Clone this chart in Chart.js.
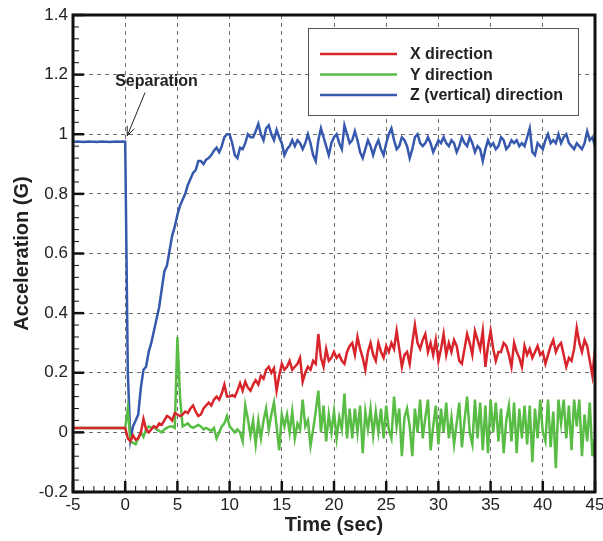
<!DOCTYPE html>
<html>
<head>
<meta charset="utf-8">
<script src="https://cdn.jsdelivr.net/npm/chart.js@4.4.1/dist/chart.umd.min.js"></script>
<style>
  html, body { margin: 0; padding: 0; background: #fff; }
  canvas { display: block; }
</style>
</head>
<body>
<canvas id="accelChart" width="603" height="541"></canvas>
<script>
// samples every 0.25 s starting at -5 s
const timeStart = -5;
const timeStep = 0.25;
const separationTime = 0;

const seriesLabels = ["X direction", "Y direction", "Z (vertical) direction"];
const seriesColors = ["#d8242b", "#58bc45", "#3659ae"];

// before separation (-5 .. -0.25 s)
const xBefore = [0.015, 0.015, 0.015, 0.015, 0.015, 0.015, 0.015, 0.015, 0.015, 0.015,
                 0.015, 0.015, 0.015, 0.015, 0.015, 0.015, 0.015, 0.015, 0.015, 0.015];
const yBefore = [0.015, 0.015, 0.015, 0.015, 0.015, 0.015, 0.015, 0.015, 0.015, 0.015,
                 0.015, 0.015, 0.015, 0.015, 0.015, 0.015, 0.015, 0.015, 0.015, 0.015];
const zBefore = [0.975, 0.975, 0.976, 0.975, 0.974, 0.975, 0.976, 0.975, 0.975, 0.974,
                 0.975, 0.976, 0.975, 0.975, 0.974, 0.975, 0.975, 0.976, 0.975, 0.976];

// after separation (0 .. 45 s), one row per second
const xAfter = [
  0.015, -0.02, -0.03, -0.01,
  -0.025, -0.02, 0.00, 0.045,
  0.01, 0.00, 0.01, 0.02,
  0.015, 0.03, 0.025, 0.04,
  0.055, 0.05, 0.04, 0.065,
  0.06, 0.055, 0.06, 0.07,
  0.065, 0.08, 0.09, 0.07,
  0.055, 0.06, 0.08, 0.09,
  0.10, 0.09, 0.11, 0.12,
  0.11, 0.13, 0.16, 0.12,
  0.12, 0.125, 0.12, 0.14,
  0.165, 0.14, 0.17, 0.15,
  0.14, 0.16, 0.175, 0.16,
  0.19, 0.18, 0.21, 0.22,
  0.20, 0.215, 0.14, 0.19,
  0.23, 0.21, 0.22, 0.24,
  0.21, 0.22, 0.23, 0.25,
  0.17, 0.20, 0.22, 0.21,
  0.24, 0.23, 0.33, 0.25,
  0.22, 0.28, 0.24, 0.25,
  0.27, 0.25, 0.26, 0.24,
  0.23, 0.27, 0.29, 0.30,
  0.26, 0.32, 0.28, 0.25,
  0.21, 0.27, 0.30, 0.26,
  0.24, 0.30, 0.27, 0.25,
  0.29, 0.27, 0.30, 0.28,
  0.34, 0.28, 0.22, 0.26,
  0.27, 0.23, 0.30, 0.36,
  0.30, 0.28, 0.31, 0.33,
  0.27, 0.30, 0.26, 0.31,
  0.24, 0.28, 0.33, 0.26,
  0.30, 0.27, 0.31, 0.29,
  0.24, 0.23, 0.28, 0.33,
  0.30, 0.26, 0.34, 0.31,
  0.28, 0.34, 0.22, 0.29,
  0.34, 0.28, 0.24, 0.27,
  0.27, 0.30, 0.29, 0.26,
  0.22, 0.30, 0.27, 0.25,
  0.22, 0.29, 0.26, 0.28,
  0.25, 0.27, 0.29, 0.26,
  0.27, 0.23, 0.26, 0.29,
  0.31, 0.27, 0.29, 0.30,
  0.26, 0.22, 0.25, 0.24,
  0.28, 0.35, 0.30, 0.27,
  0.31, 0.29, 0.24, 0.19,
  0.28
];

const yAfter = [
  0.015, 0.08, -0.03, -0.035,
  -0.04, -0.02, 0.00, -0.015,
  0.01, 0.02, 0.015, 0.02,
  0.01, 0.005, 0.00, 0.01,
  0.015, 0.02, 0.02, 0.015,
  0.32, 0.12, 0.02, 0.025,
  0.03, 0.02, 0.015, 0.02,
  0.025, 0.02, 0.01, 0.015,
  0.01, 0.005, 0.015, -0.02,
  0.00, 0.02, 0.03, 0.055,
  0.02, 0.01, 0.00, 0.01,
  0.00, -0.03, 0.09, 0.045,
  -0.01, 0.04, -0.04, 0.04,
  -0.02, 0.04, 0.08, 0.01,
  0.06, 0.10, 0.02, -0.06,
  0.06, 0.02, 0.06, 0.00,
  0.07, -0.02, 0.03, 0.01,
  0.11, 0.02, 0.04, -0.045,
  0.01, 0.07, 0.14, 0.00,
  0.09, -0.03, 0.06, 0.00,
  0.07, -0.02, 0.05, 0.01,
  0.13, -0.02, 0.08, -0.02,
  0.08, 0.00, 0.09, -0.07,
  0.07, 0.01, 0.08, -0.01,
  0.07, 0.00, 0.08, -0.02,
  0.09, 0.01, -0.02, 0.12,
  0.02, 0.08, -0.08, 0.05,
  0.08, 0.02, -0.08, 0.08,
  0.00, 0.11, -0.02, 0.05,
  0.11, -0.06, 0.02, 0.09,
  -0.04, 0.08, 0.00, 0.10,
  -0.02, 0.05, -0.04, 0.03,
  0.10, -0.05, 0.04, 0.12,
  0.00, -0.04, 0.11, -0.02,
  0.10, -0.06, 0.09, -0.07,
  0.11, 0.00, 0.10, -0.03,
  0.08, -0.07, 0.04, 0.09,
  -0.03, 0.10, -0.07, 0.08,
  -0.02, 0.09, -0.04, 0.09,
  -0.10, 0.08, -0.02, 0.11,
  0.00, -0.03, 0.11, -0.05,
  0.07, -0.12, 0.11, 0.03,
  0.11, -0.02, 0.09, -0.06,
  0.11, 0.02, 0.11, -0.08,
  0.06, -0.03, 0.10, -0.08,
  -0.02
];

const zAfter = [
  0.975, 0.20, -0.025, 0.02,
  0.04, 0.06, 0.15, 0.21,
  0.22, 0.27, 0.30, 0.34,
  0.38, 0.42, 0.48, 0.54,
  0.56, 0.61, 0.66, 0.69,
  0.73, 0.76, 0.78, 0.80,
  0.83, 0.85, 0.87, 0.88,
  0.91, 0.91, 0.90, 0.915,
  0.92, 0.93, 0.945, 0.955,
  0.94, 0.96, 0.99, 1.00,
  1.00, 0.97, 0.93, 0.92,
  0.955, 0.95, 0.97, 1.00,
  0.99, 0.99, 1.01, 1.035,
  1.00, 0.98, 1.02, 1.03,
  1.00, 0.98, 1.015, 0.99,
  0.97, 0.93, 0.95, 0.96,
  0.98, 0.96, 0.98, 0.97,
  0.95, 0.97, 1.00, 0.97,
  0.93, 0.91, 0.98, 1.02,
  0.99, 0.96, 0.93, 0.97,
  0.99, 1.00, 0.97, 0.95,
  1.03, 1.00, 0.97, 0.98,
  1.01, 0.98, 0.94, 0.92,
  0.95, 0.98, 0.96, 0.93,
  0.96, 0.98, 0.95, 0.93,
  0.97, 1.00, 1.02, 0.98,
  0.95, 0.96, 0.99, 0.98,
  0.96, 0.92, 0.95, 0.99,
  1.00, 0.97, 0.96, 0.97,
  0.99, 0.97, 0.94, 0.96,
  0.98, 0.97, 0.99, 0.97,
  0.96, 0.98, 0.97, 0.94,
  0.96, 0.99, 0.97, 0.96,
  0.99, 0.97, 0.94, 0.96,
  0.95, 0.91, 0.95, 0.98,
  0.96, 0.97, 0.95, 0.96,
  0.99, 0.98, 0.95, 0.96,
  0.98, 0.97, 0.98, 0.96,
  0.97, 0.96, 0.99, 1.02,
  0.94, 0.93, 0.97, 0.96,
  0.95, 0.98, 1.00, 0.97,
  0.98, 0.97, 1.00, 0.97,
  0.99, 1.00, 0.97, 0.96,
  0.95, 0.97, 0.96, 0.95,
  0.97, 1.01, 0.98, 0.99,
  0.96
];

const FONT = '"Liberation Sans", Arial, Helvetica, sans-serif';

function toPoints(values) {
  return values.map((v, i) => ({ x: timeStart + i * timeStep, y: v }));
}

const allSeries = [
  xBefore.concat(xAfter),
  yBefore.concat(yAfter),
  zBefore.concat(zAfter)
];

// inward ticks + heavy frame
const frameTicks = {
  id: "frameTicks",
  afterDatasetsDraw(chart) {
    const { ctx, chartArea: a, scales } = chart;
    ctx.save();
    ctx.strokeStyle = "#111";
    for (let t = -5; t <= 45; t++) {
      const px = scales.x.getPixelForValue(t);
      const major = t % 5 === 0;
      ctx.lineWidth = major ? 2.5 : 1;
      ctx.beginPath();
      ctx.moveTo(px, a.bottom);
      ctx.lineTo(px, a.bottom - (major ? 11 : 6));
      ctx.stroke();
    }
    for (let i = 0; i <= 40; i++) {
      const py = scales.y.getPixelForValue(-0.2 + i * 0.04);
      const major = i % 5 === 0;
      ctx.lineWidth = major ? 2.5 : 1;
      ctx.beginPath();
      ctx.moveTo(a.left, py);
      ctx.lineTo(a.left + (major ? 11 : 6), py);
      ctx.stroke();
    }
    ctx.lineWidth = 3;
    ctx.strokeRect(a.left, a.top, a.right - a.left, a.bottom - a.top);
    ctx.restore();
  }
};

// "Separation" label with arrow
const separationNote = {
  id: "separationNote",
  afterDatasetsDraw(chart) {
    const { ctx, scales } = chart;
    const tipX = scales.x.getPixelForValue(separationTime + 0.2);
    const tipY = scales.y.getPixelForValue(0.995);
    const tailX = scales.x.getPixelForValue(1.9);
    const tailY = scales.y.getPixelForValue(1.14);
    ctx.save();
    ctx.fillStyle = "#222";
    ctx.font = "bold 16px " + FONT;
    ctx.textAlign = "center";
    ctx.textBaseline = "middle";
    ctx.fillText("Separation", scales.x.getPixelForValue(3.0), scales.y.getPixelForValue(1.175));
    ctx.strokeStyle = "#222";
    ctx.lineWidth = 1;
    ctx.beginPath();
    ctx.moveTo(tailX, tailY);
    ctx.lineTo(tipX, tipY);
    const ang = Math.atan2(tipY - tailY, tipX - tailX);
    for (const d of [0.4, -0.4]) {
      ctx.moveTo(tipX, tipY);
      ctx.lineTo(tipX - 10 * Math.cos(ang + d), tipY - 10 * Math.sin(ang + d));
    }
    ctx.stroke();
    ctx.restore();
  }
};

// boxed legend in the upper right
const boxLegend = {
  id: "boxLegend",
  afterDraw(chart) {
    const { ctx } = chart;
    ctx.save();
    ctx.fillStyle = "#fff";
    ctx.fillRect(308, 28, 270, 87);
    ctx.strokeStyle = "#555";
    ctx.lineWidth = 1;
    ctx.strokeRect(308.5, 28.5, 270, 87);
    ctx.font = "bold 16px " + FONT;
    ctx.textBaseline = "middle";
    chart.data.datasets.forEach((ds, i) => {
      const y = 54 + i * 20.5;
      ctx.strokeStyle = ds.borderColor;
      ctx.lineWidth = 2.5;
      ctx.beginPath();
      ctx.moveTo(320, y);
      ctx.lineTo(397, y);
      ctx.stroke();
      ctx.fillStyle = "#222";
      ctx.fillText(ds.label, 410, y + 1);
    });
    ctx.restore();
  }
};

new Chart(document.getElementById("accelChart"), {
  type: "line",
  data: {
    datasets: allSeries.map((vals, i) => ({
      label: seriesLabels[i],
      data: toPoints(vals),
      borderColor: seriesColors[i],
      borderWidth: 2.5,
      pointRadius: 0,
      tension: 0,
      fill: false
    }))
  },
  options: {
    responsive: false,
    animation: false,
    layout: { padding: { left: 0, right: 8, top: 15, bottom: 0 } },
    plugins: { legend: { display: false }, tooltip: { enabled: false } },
    scales: {
      x: {
        type: "linear",
        min: -5,
        max: 45,
        afterFit(s) { s.height = 49; s.paddingLeft = 0; s.paddingRight = 0; },
        ticks: {
          stepSize: 5,
          autoSkip: false,
          maxRotation: 0,
          padding: 3,
          color: "#222",
          font: { family: FONT, size: 17 }
        },
        grid: { color: "#6e6e6e", lineWidth: 1, drawTicks: false },
        border: { display: false, dash: [4, 4] },
        title: {
          display: true,
          text: "Time (sec)",
          color: "#222",
          font: { family: FONT, size: 20, weight: "bold" },
          padding: { top: 0, bottom: 4 }
        }
      },
      y: {
        min: -0.2,
        max: 1.4,
        afterFit(s) { s.width = 73; s.paddingTop = 0; s.paddingBottom = 0; },
        ticks: {
          stepSize: 0.2,
          padding: 5,
          color: "#222",
          font: { family: FONT, size: 17 },
          callback: v => String(parseFloat(v.toFixed(2)))
        },
        grid: { color: "#6e6e6e", lineWidth: 1, drawTicks: false },
        border: { display: false, dash: [4, 4] },
        title: {
          display: true,
          text: "Acceleration (G)",
          color: "#222",
          font: { family: FONT, size: 20, weight: "bold" },
          padding: { top: 10, bottom: 0 }
        }
      }
    }
  },
  plugins: [frameTicks, separationNote, boxLegend]
});
</script>
</body>
</html>
